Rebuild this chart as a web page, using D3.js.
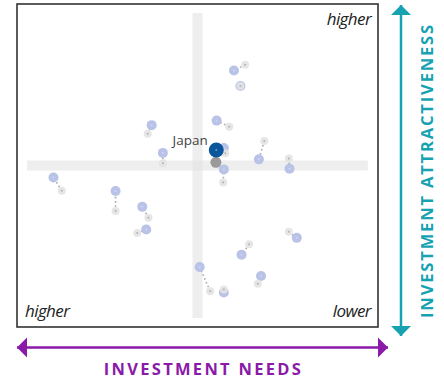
<!DOCTYPE html>
<html>
<head>
<meta charset="utf-8">
<script src="https://cdn.jsdelivr.net/npm/d3@7"></script>
<style>
  body { margin: 0; background: #fff; }
  svg text { font-family: "Open Sans", sans-serif; }
</style>
</head>
<body>
<div id="chart"></div>
<script>
// chart values (0-100 score, x: investment needs, y: attractiveness)
var needsNow   = [60.1, 61.9, 55.3, 37.3, 40.4, 57.3, 67.0, 75.5, 57.3, 10.1, 27.3, 34.7, 35.8, 77.5, 62.2, 50.6, 57.3, 67.6];
var attrNow    = [79.4, 74.6, 63.9, 62.5, 53.9, 55.4, 51.9, 49.0, 48.8, 46.3, 42.1, 37.2, 30.2, 27.6, 22.4, 18.6, 10.7, 15.8];
var needsPrev  = [63.2, 61.9, 58.8, 36.2, 40.4, 57.7, 68.5, 75.3, 57.1, 12.4, 27.3, 36.4, 33.3, 75.3, 64.3, 53.5, 57.3, 66.7];
var attrPrev   = [81.2, 74.6, 62.0, 59.8, 50.7, 53.8, 57.6, 52.2, 44.7, 42.2, 35.9, 33.8, 29.1, 29.5, 25.6, 11.1, 11.6, 13.4];
var japanNow   = [55.2, 54.8];
var japanPrev  = [55.1, 51.0];
var midPoint   = [50, 50];
var bandExtent = [2.8, 97.2];

var width = 444, height = 383;
var frame = {left: 17, top: 4, right: 378, bottom: 327};

var x = d3.scaleLinear().domain([0, 100]).range([frame.left, frame.right]);
var y = d3.scaleLinear().domain([0, 100]).range([frame.bottom, frame.top]);

var pairs = needsNow.map(function(d, i) {
  return {x1: d, y1: attrNow[i], x0: needsPrev[i], y0: attrPrev[i]};
});

var svg = d3.select("#chart")
  .append("svg")
  .attr("width", width)
  .attr("height", height);

// crosshair bands
svg.append("rect")
  .attr("x", x(midPoint[0]) - 5)
  .attr("y", y(bandExtent[1]))
  .attr("width", 10)
  .attr("height", y(bandExtent[0]) - y(bandExtent[1]))
  .attr("fill", "#e2e2e2")
  .attr("opacity", 0.6);

svg.append("rect")
  .attr("x", x(bandExtent[0]))
  .attr("y", y(midPoint[1]) - 5)
  .attr("width", x(bandExtent[1]) - x(bandExtent[0]))
  .attr("height", 10)
  .attr("fill", "#e2e2e2")
  .attr("opacity", 0.6);

// frame
svg.append("rect")
  .attr("x", frame.left)
  .attr("y", frame.top)
  .attr("width", frame.right - frame.left)
  .attr("height", frame.bottom - frame.top)
  .attr("fill", "none")
  .attr("stroke", "#333")
  .attr("stroke-width", 1.6);

// links between previous and current position
svg.selectAll(".link")
  .data(pairs)
  .enter().append("line")
  .attr("class", "link")
  .attr("x1", function(d) { return x(d.x0); })
  .attr("y1", function(d) { return y(d.y0); })
  .attr("x2", function(d) { return x(d.x1); })
  .attr("y2", function(d) { return y(d.y1); })
  .attr("stroke", "#aaa")
  .attr("stroke-width", 1.6)
  .attr("stroke-dasharray", "1.6,2.6");

svg.selectAll(".now")
  .data(pairs)
  .enter().append("circle")
  .attr("class", "now")
  .attr("cx", function(d) { return x(d.x1); })
  .attr("cy", function(d) { return y(d.y1); })
  .attr("r", 5)
  .attr("fill", "#b9c3e7");

svg.selectAll(".nowDot")
  .data(pairs)
  .enter().append("circle")
  .attr("cx", function(d) { return x(d.x1); })
  .attr("cy", function(d) { return y(d.y1); })
  .attr("r", 1)
  .attr("fill", "#d0d6f0");

svg.selectAll(".prev")
  .data(pairs)
  .enter().append("circle")
  .attr("class", "prev")
  .attr("cx", function(d) { return x(d.x0); })
  .attr("cy", function(d) { return y(d.y0); })
  .attr("r", 4)
  .attr("fill", "#e3e3e3")
  .attr("fill-opacity", 0.9);

svg.selectAll(".prevDot")
  .data(pairs)
  .enter().append("circle")
  .attr("cx", function(d) { return x(d.x0); })
  .attr("cy", function(d) { return y(d.y0); })
  .attr("r", 1)
  .attr("fill", "#b5b5b5");

// Japan
svg.append("line")
  .attr("x1", x(japanPrev[0])).attr("y1", y(japanPrev[1]))
  .attr("x2", x(japanNow[0])).attr("y2", y(japanNow[1]))
  .attr("stroke", "#888")
  .attr("stroke-width", 1.6)
  .attr("stroke-dasharray", "1.6,2.6");

svg.append("circle")
  .attr("cx", x(japanPrev[0])).attr("cy", y(japanPrev[1]))
  .attr("r", 5.5)
  .attr("fill", "#9a9a9a");

svg.append("circle")
  .attr("cx", x(japanNow[0])).attr("cy", y(japanNow[1]))
  .attr("r", 7.5)
  .attr("fill", "#0b569b");

svg.append("circle")
  .attr("cx", x(japanNow[0])).attr("cy", y(japanNow[1]))
  .attr("r", 1)
  .attr("fill", "#6f9cc8");

svg.append("text")
  .attr("x", x(japanNow[0]) - 8.5)
  .attr("y", y(japanNow[1]) - 4.5)
  .attr("text-anchor", "end")
  .attr("font-size", 13.5)
  .attr("fill", "#444")
  .text("Japan");

// corner labels
function corner(tx, ty, anchor, label) {
  svg.append("text")
    .attr("x", tx).attr("y", ty)
    .attr("text-anchor", anchor)
    .attr("font-size", 17).attr("font-style", "italic")
    .attr("letter-spacing", -0.6)
    .attr("fill", "#222")
    .text(label);
}
corner(frame.right - 7, frame.top + 21, "end", "higher");
corner(frame.left + 8, frame.bottom - 10, "start", "higher");
corner(frame.right - 7, frame.bottom - 10, "end", "lower");

// axis arrows
function arrow(x1, y1, x2, y2, color) {
  svg.append("line")
    .attr("x1", x1).attr("y1", y1)
    .attr("x2", x2).attr("y2", y2)
    .attr("stroke", color)
    .attr("stroke-width", 2.5);
  var a = Math.atan2(y2 - y1, x2 - x1);
  [[x2, y2, a], [x1, y1, a + Math.PI]].forEach(function(t) {
    var c = Math.cos(t[2]), s = Math.sin(t[2]);
    var len = 10, half = 10;
    var bx = t[0] - c * len, by = t[1] - s * len;
    svg.append("path")
      .attr("d", "M" + t[0] + "," + t[1] +
        "L" + (bx - s * half) + "," + (by + c * half) +
        "L" + (bx + s * half) + "," + (by - c * half) + "Z")
      .attr("fill", color);
  });
}
arrow(17, 347.5, 388, 347.5, "#8a1aa8");
arrow(401, 5, 401, 336, "#17a2b2");

svg.append("text")
  .attr("x", 203.5).attr("y", 375)
  .attr("text-anchor", "middle")
  .attr("font-size", 16.5).attr("font-weight", "bold")
  .attr("letter-spacing", 2.3)
  .attr("fill", "#8a1aa8")
  .text("INVESTMENT NEEDS");

svg.append("text")
  .attr("transform", "translate(433,170.5) rotate(-90)")
  .attr("text-anchor", "middle")
  .attr("font-size", 16.5).attr("font-weight", "bold")
  .attr("letter-spacing", 1.85)
  .attr("fill", "#17a2b2")
  .text("INVESTMENT ATTRACTIVENESS");
</script>
</body>
</html>
